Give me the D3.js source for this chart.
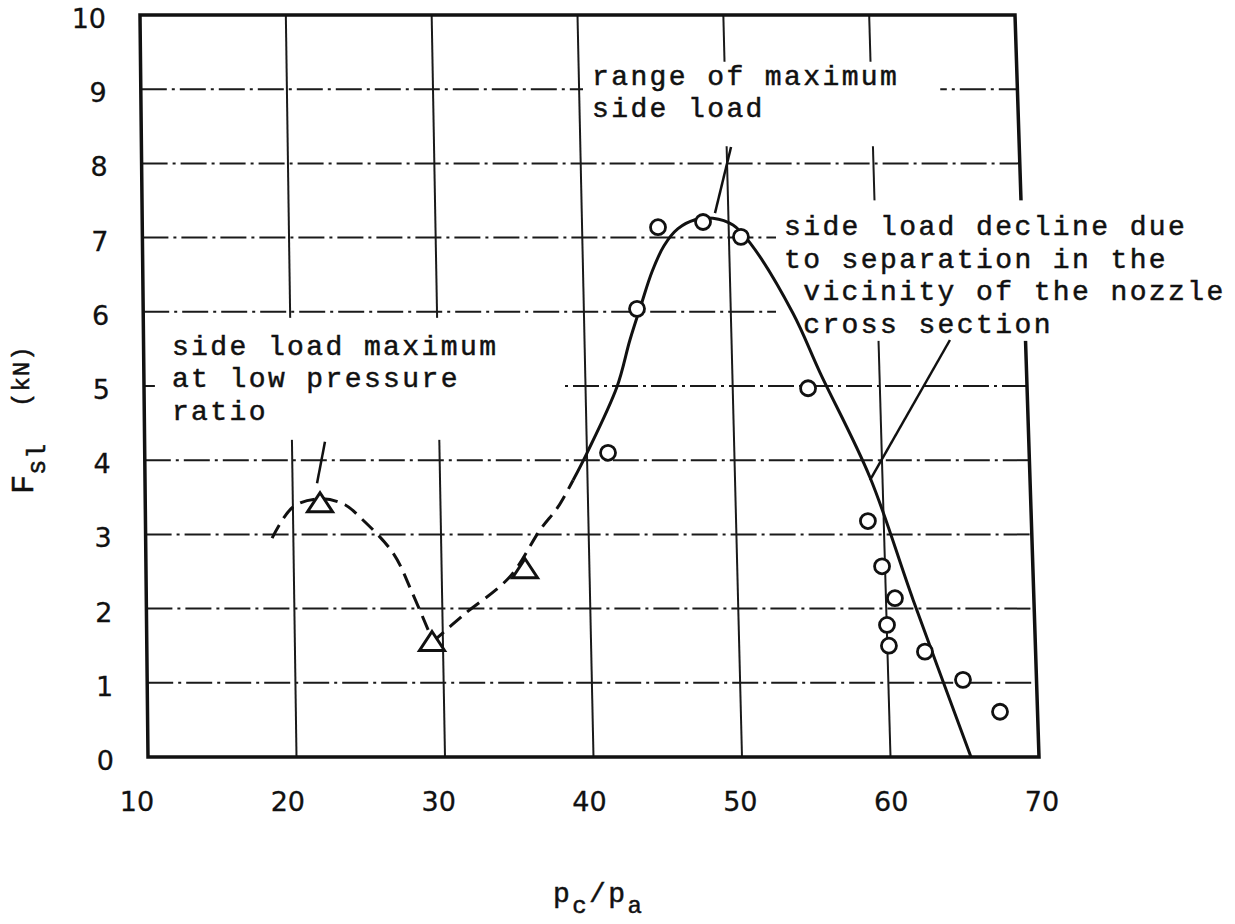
<!DOCTYPE html>
<html>
<head>
<meta charset="utf-8">
<script src="https://cdn.jsdelivr.net/npm/d3@7"></script>
<style>
  body { margin: 0; background: #fff; }
  text { fill: #111; }
  .note { font-family: "Liberation Mono", monospace; font-size: 28px; letter-spacing: 2.4px;
          white-space: pre; stroke: #111; stroke-width: 0.5px; }
  .tick { font-family: "DejaVu Sans", sans-serif; font-size: 27px; stroke: #111; stroke-width: 0.3px; }
</style>
</head>
<body>
<svg id="chart" width="1235" height="924"></svg>
<script>
// measured side loads (open circles)
var circleX = [41.43, 43.62, 45.18, 48.26, 50.82, 55.12, 58.93, 59.80, 60.61, 60.02, 60.11, 62.53, 65.04, 67.47];
var circleY = [4.10, 6.04, 7.14, 7.21, 7.01, 4.97, 3.18, 2.57, 2.14, 1.78, 1.50, 1.42, 1.04, 0.61];

// low pressure ratio points (triangles)
var triangleX = [21.84, 29.26, 35.64];
var triangleY = [3.40, 1.53, 2.51];

// faired curves: dashed hump, dashed rise, solid fit
var humpX = [18.56, 20.01, 21.85, 23.53, 24.54, 26.73, 27.97, 29.2];
var humpY = [2.95, 3.37, 3.48, 3.40, 3.23, 2.75, 2.22, 1.62];
var riseX = [29.3, 31.39, 34.61, 36.71, 37.96, 39.02];
var riseY = [1.55, 1.91, 2.43, 3.06, 3.37, 3.73];
var fitX = [39.02, 40.01, 42.14, 43.09, 43.90, 44.70, 45.56, 46.54, 47.72, 48.94, 50.30, 51.43, 54.23, 55.96, 59.15, 61.83, 65.42];
var fitY = [3.73, 4.10, 4.99, 5.62, 6.09, 6.54, 6.89, 7.12, 7.24, 7.26, 7.17, 6.93, 5.98, 5.18, 3.77, 2.12, 0];

var xTicks = [10, 20, 30, 40, 50, 60, 70];
var yTicks = [0, 1, 2, 3, 4, 5, 6, 7, 8, 9, 10];

var svg = d3.select('#chart');

// the printed grid is slightly wider at the bottom than at the top
var y = d3.scaleLinear().domain([0, 10]).range([757, 15]);
var xTop = d3.scaleLinear().domain([10, 70]).range([140, 1015]);
var xBottom = d3.scaleLinear().domain([10, 70]).range([148, 1039]);
var xLabel = d3.scaleLinear().domain([10, 70]).range([137, 1042]);

function project(xv, yv) {
  var py = y(yv);
  var t = (py - y(10)) / (y(0) - y(10));
  return [xTop(xv) + (xBottom(xv) - xTop(xv)) * t, py];
}

function zip(xs, ys) {
  return xs.map(function(d, i) { return project(d, ys[i]); });
}

// grid
var grid = svg.append('g').attr('stroke', '#1a1a1a').attr('fill', 'none');
yTicks.slice(1, -1).forEach(function(v) {
  var a = project(10, v), b = project(70, v);
  grid.append('line')
      .attr('x1', a[0]).attr('y1', a[1]).attr('x2', b[0]).attr('y2', b[1])
      .attr('stroke-width', 2)
      .attr('stroke-dasharray', '26 5 3 5');
});
xTicks.slice(1, -1).forEach(function(v) {
  var a = project(v, 0), b = project(v, 10);
  grid.append('line')
      .attr('x1', a[0]).attr('y1', a[1]).attr('x2', b[0]).attr('y2', b[1])
      .attr('stroke-width', 2);
});

// frame
var corners = [project(10, 0), project(70, 0), project(70, 10), project(10, 10)];
svg.append('polygon')
   .attr('points', corners.map(function(p) { return p.join(','); }).join(' '))
   .attr('fill', 'none')
   .attr('stroke', '#111')
   .attr('stroke-width', 3.5)
   .attr('stroke-linejoin', 'miter');

// tick labels
svg.append('g').selectAll('text')
   .data(yTicks).enter().append('text')
   .attr('class', 'tick')
   .attr('text-anchor', 'end')
   .attr('x', function(d) { return project(10, d)[0] - 34; })
   .attr('y', function(d) { return project(10, d)[1] + 13; })
   .text(function(d) { return d; });

svg.append('g').selectAll('text')
   .data(xTicks).enter().append('text')
   .attr('class', 'tick')
   .attr('text-anchor', 'middle')
   .attr('x', function(d) { return xLabel(d); })
   .attr('y', 811)
   .text(function(d) { return d; });

// annotations, each pasted over the grid on a white patch
var notes = [
  { lines: ['side load maximum', 'at low pressure', 'ratio'],
    at: [11.92, 5.42], pad: [14, 62, 12, 17],
    leader: [[22.24, 4.25], [21.66, 3.69]] },
  { lines: ['range of maximum', 'side load'],
    at: [40.89, 9.06], pad: [0, 41, 21, 9],
    leader: [[50.30, 8.22], [49.09, 7.33]] },
  { lines: ['side load decline due', 'to separation in the', ' vicinity of the nozzle', ' cross section'],
    at: [53.76, 7.03], pad: [12, 10, 0, 8],
    leader: [[64.86, 5.62], [59.15, 3.73]] }
];

var patches = svg.append('g');
var labels = svg.append('g');
notes.forEach(function(n) {
  var p = project(n.at[0], n.at[1]);
  var t = labels.append('text')
      .attr('class', 'note')
      .attr('xml:space', 'preserve')
      .attr('x', p[0]).attr('y', p[1]);
  n.lines.forEach(function(s, i) {
    t.append('tspan').attr('x', p[0]).attr('dy', i ? 32.5 : 0).text(s);
  });
  var bb = t.node().getBBox();
  patches.append('rect')
      .attr('x', bb.x - n.pad[3])
      .attr('y', bb.y - n.pad[0])
      .attr('width', bb.width + n.pad[1] + n.pad[3])
      .attr('height', bb.height + n.pad[0] + n.pad[2])
      .attr('fill', '#fff');
  var a = project(n.leader[0][0], n.leader[0][1]);
  var b = project(n.leader[1][0], n.leader[1][1]);
  svg.append('line')
     .attr('x1', a[0]).attr('y1', a[1]).attr('x2', b[0]).attr('y2', b[1])
     .attr('stroke', '#111').attr('stroke-width', 2.5);
});

// curves
var line = d3.line().curve(d3.curveCatmullRom.alpha(0.5));
svg.append('path')
   .attr('d', line(zip(humpX, humpY)))
   .attr('fill', 'none').attr('stroke', '#111').attr('stroke-width', 3)
   .attr('stroke-dasharray', '15 8');
svg.append('path')
   .attr('d', line(zip(riseX, riseY)))
   .attr('fill', 'none').attr('stroke', '#111').attr('stroke-width', 3)
   .attr('stroke-dasharray', '15 8');
svg.append('path')
   .attr('d', line(zip(fitX, fitY)))
   .attr('fill', 'none').attr('stroke', '#111').attr('stroke-width', 3);

// markers
svg.append('g').selectAll('circle')
   .data(zip(circleX, circleY)).enter().append('circle')
   .attr('cx', function(d) { return d[0]; })
   .attr('cy', function(d) { return d[1]; })
   .attr('r', 7.5)
   .attr('fill', '#fff').attr('stroke', '#111').attr('stroke-width', 2.8);

svg.append('g').selectAll('path')
   .data(zip(triangleX, triangleY)).enter().append('path')
   .attr('d', function(d) {
     return 'M' + d[0] + ',' + (d[1] - 12) + 'L' + (d[0] + 12.5) + ',' + (d[1] + 7) +
            'L' + (d[0] - 12.5) + ',' + (d[1] + 7) + 'Z';
   })
   .attr('fill', '#fff').attr('stroke', '#111').attr('stroke-width', 3)
   .attr('stroke-linejoin', 'miter');

// axis titles
var yt = svg.append('text')
   .attr('class', 'note')
   .style('letter-spacing', '0px')
   .attr('transform', 'translate(33,494) rotate(-90)');
yt.append('tspan').style('font-size', '32px').text('F');
yt.append('tspan').attr('dy', 12).style('font-size', '25px').style('letter-spacing', '1px').text('sl');
svg.append('text')
   .attr('class', 'note')
   .style('font-size', '24px').style('letter-spacing', '1px')
   .attr('transform', 'translate(29,407) rotate(-90)')
   .text('(kN)');

var xt = svg.append('text')
   .attr('class', 'note')
   .attr('x', 553).attr('y', 902);
xt.append('tspan').text('p');
xt.append('tspan').attr('dy', 11).style('font-size', '24px').text('c');
xt.append('tspan').attr('dy', -11).text('/');
xt.append('tspan').text('p');
xt.append('tspan').attr('dy', 11).style('font-size', '24px').text('a');
</script>
</body>
</html>
